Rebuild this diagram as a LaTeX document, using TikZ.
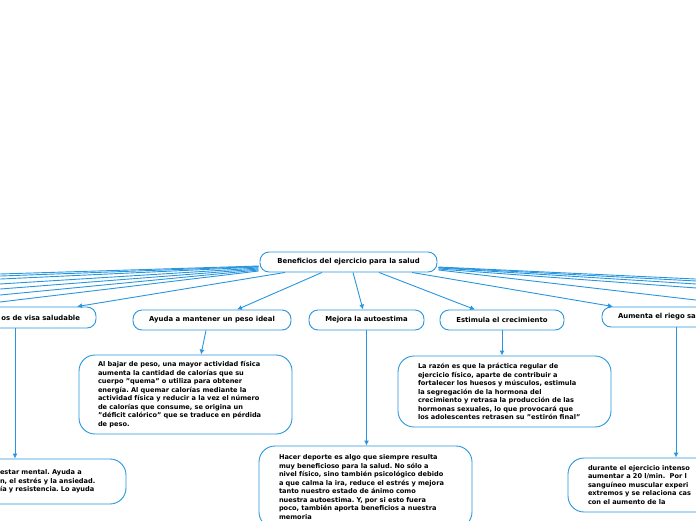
\documentclass[tikz,border=0pt]{standalone}
\usepackage{fontspec}
\setmainfont{DejaVu Sans}
\usetikzlibrary{arrows.meta,positioning}
\definecolor{mapblue}{RGB}{40,150,222}
\frenchspacing

\tikzset{
  topic/.style={draw=mapblue, line width=0.9pt, rounded corners=9pt, fill=white,
    font=\fontsize{6.9}{8}\selectfont\bfseries, minimum height=20pt, inner sep=0pt},
  detail/.style={draw=mapblue, line width=0.9pt, rounded corners=16pt, fill=white,
    font=\fontsize{6.6}{8.5}\selectfont\bfseries, align=left, inner ysep=0pt},
  link/.style={mapblue, line width=0.9pt, -{Latex[length=5pt,width=5pt]}}
}

\begin{document}
\begin{tikzpicture}[x=1pt, y=-1pt]
    \useasboundingbox (0,0) rectangle (696,520);
    \clip (0,0) rectangle (696,520);

    % draw main topic
    \node[topic, minimum width=177pt] (root) at (348.5,262) {Beneficios del ejercicio para la salud};

    % draw subtopics
    \node[topic, text width=124pt, inner xsep=16pt, align=right, minimum height=21pt] (habit) at (18,317.5) {os de visa saludable};
    \node[topic, minimum width=158pt] (ayuda) at (212,320) {Ayuda a mantener un peso ideal};
    \node[topic, minimum width=115pt] (mejora) at (366.5,320) {Mejora la autoestima};
    \node[topic, minimum width=124pt] (estimula) at (502,320) {Estimula el crecimiento};
    \node[topic, text width=128pt, inner xsep=16pt, align=left] (riego) at (682,317) {Aumenta el riego sa};

    % draw details
    \node[detail, text width=175pt, inner xsep=19pt, minimum height=79pt] (peso) at (185.5,394.5)
      {Al bajar de peso, una mayor actividad física\\aumenta la cantidad de calorías que su\\cuerpo "quema" o utiliza para obtener\\energía. Al quemar calorías mediante la\\actividad física y reducir a la vez el número\\de calorías que consume, se origina un\\"déficit calórico" que se traduce en pérdida\\de peso.};
    \node[detail, text width=173pt, inner xsep=20pt, minimum height=71pt] (razon) at (504.5,391.5)
      {La razón es que la práctica regular de\\ejercicio físico, aparte de contribuir a\\fortalecer los huesos y músculos, estimula\\la segregación de la hormona del\\crecimiento y retrasa la producción de las\\hormonas sexuales, lo que provocará que\\los adolescentes retrasen su "estirón final"};
    \node[detail, text width=173pt, inner xsep=20pt, minimum height=82pt] (hacer) at (365.5,487)
      {Hacer deporte es algo que siempre resulta\\muy beneficioso para la salud. No sólo a\\nivel físico, sino también psicológico debido\\a que calma la ira, reduce el estrés y mejora\\tanto nuestro estado de ánimo como\\nuestra autoestima. Y, por si esto fuera\\poco, también aporta beneficios a nuestra\\memoria\\[-2pt]};
    \node[detail, text width=110pt, inner xsep=16pt, minimum height=45pt] (bienestar) at (55,481.5)
      {estar mental. Ayuda a\\n, el estrés y la ansiedad.\\ía y resistencia. Lo ayuda};
    \node[detail, text width=160pt, inner xsep=20pt, minimum height=54pt] (durante) at (668,485)
      {durante el ejercicio intenso\\aumentar a 20 l/min.\ \ Por l\\sanguíneo muscular experi\\extremos y se relaciona cas\\con el aumento de la};

    % draw links to subtopics
    \draw[link] ([xshift=-63.5pt]root.south) -- ([xshift=59pt]habit.north);
    \draw[link] ([xshift=-26.5pt]root.south) -- ([xshift=25pt]ayuda.north);
    \draw[link] ([xshift=4.5pt]root.south) -- ([xshift=-3.5pt]mejora.north);
    \draw[link] ([xshift=30.5pt]root.south) -- ([xshift=-27pt]estimula.north);
    \draw[link] ([xshift=63.5pt]root.south) -- ([xshift=-69pt]riego.north);

    % draw links leaving the page
    \foreach \s/\e [count=\i] in {4/274.3, 4.5/276.4, 5/279.5, 6/284.6, 7/289.8, 8/296, 9/303.2} {
      \coordinate (west\i) at (-10,\e);
      \draw[link] ([xshift=-1pt,yshift=-\s pt]root.west) -- (west\i);
    }
    \foreach \s/\e [count=\i] in {5/279.5, 5.5/281.5, 6/284.6, 7/288.7, 8/301.2} {
      \coordinate (east\i) at (706,\e);
      \draw[link] ([xshift=1pt,yshift=-\s pt]root.east) -- (east\i);
    }

    % draw links to details
    \draw[link] ([xshift=-6pt]ayuda.south) -- ([xshift=15.5pt]peso.north);
    \draw[link] (mejora.south) -- (mejora.south |- hacer.north);
    \draw[link] (estimula.south) -- (estimula.south |- razon.north);
    \draw[link] ([xshift=-3pt]habit.south) -- ([xshift=-3pt]habit.south |- bienestar.north);
    \draw[link] ([xshift=-6pt]riego.south) -- ([xshift=-6pt]riego.south |- durante.north);
\end{tikzpicture}
\end{document}
